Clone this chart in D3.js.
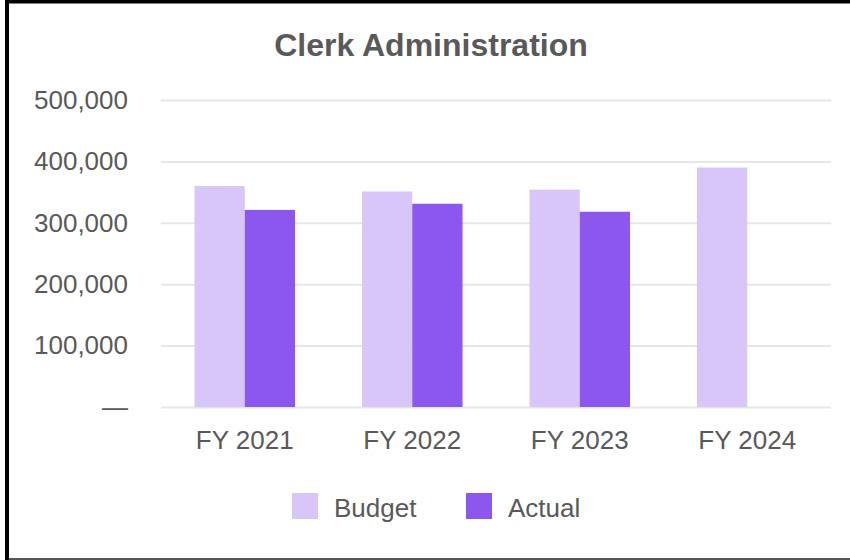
<!DOCTYPE html>
<html>
<head>
<meta charset="utf-8">
<script src="https://cdn.jsdelivr.net/npm/d3@7"></script>
<style>
  html, body { margin: 0; padding: 0; background: #fff; }
  svg { display: block; font-family: "Liberation Sans", Arial, sans-serif; }
</style>
</head>
<body>
<svg id="chart" width="850" height="560"></svg>
<script>
// Fiscal years and budget vs. actual spending for Clerk Administration
const years = ["FY 2021", "FY 2022", "FY 2023", "FY 2024"];
const seriesNames = ["Budget", "Actual"];
const budget = [360000, 351000, 354000, 390000];
const actual = [321000, 331000, 318000, null];
const yTicks = [0, 100000, 200000, 300000, 400000, 500000];
const colors = ["#d8c6f8", "#8c57ef"];

const svg = d3.select("#chart");
const textColor = "#595959";

// Card frame
svg.append("rect").attr("x", 5).attr("y", 0).attr("width", 845).attr("height", 3.5).attr("fill", "#000");
svg.append("rect").attr("x", 5).attr("y", 0).attr("width", 4).attr("height", 560).attr("fill", "#000");
svg.append("rect").attr("x", 9).attr("y", 558).attr("width", 841).attr("height", 2).attr("fill", "#555");

// Title
svg.append("text")
  .attr("x", 431).attr("y", 56)
  .attr("text-anchor", "middle")
  .attr("font-size", 32).attr("font-weight", "bold")
  .attr("fill", textColor)
  .text("Clerk Administration");

const plotLeft = 161, plotRight = 831;
const y = d3.scaleLinear().domain([0, 500000]).range([407, 100]);
const x = d3.scaleBand().domain(years).range([plotLeft, plotRight]).padding(0);
const xs = d3.scaleBand().domain(seriesNames)
  .range([x.bandwidth() * 0.2, x.bandwidth() * 0.8]).padding(0);

// Y axis with gridlines
const yAxis = d3.axisLeft(y)
  .tickValues(yTicks)
  .tickSize(-(plotRight - plotLeft))
  .tickPadding(33)
  .tickFormat(d => d === 0 ? "—" : d3.format(",")(d));

const gy = svg.append("g")
  .attr("transform", `translate(${plotLeft},0)`)
  .call(yAxis);
gy.select(".domain").remove();
gy.selectAll(".tick line").attr("stroke", "#e6e6e6").attr("stroke-width", 2);
gy.selectAll(".tick text")
  .attr("font-size", 26)
  .attr("font-family", "Liberation Sans, Arial, sans-serif")
  .attr("fill", textColor);

// Bars
const rows = years.map((yr, i) => ({ year: yr, values: [budget[i], actual[i]] }));
const groups = svg.append("g").selectAll("g")
  .data(rows).join("g")
  .attr("transform", d => `translate(${x(d.year)},0)`);

groups.selectAll("rect")
  .data(d => d.values.map((v, j) => ({ name: seriesNames[j], value: v, color: colors[j] }))
               .filter(e => e.value !== null))
  .join("rect")
  .attr("x", d => xs(d.name))
  .attr("width", xs.bandwidth())
  .attr("y", d => y(d.value))
  .attr("height", d => y(0) - y(d.value))
  .attr("fill", d => d.color);

// X axis labels
const xAxis = d3.axisBottom(x).tickSize(0).tickPadding(24);
const gx = svg.append("g")
  .attr("transform", `translate(0,${y(0)})`)
  .call(xAxis);
gx.select(".domain").remove();
gx.selectAll(".tick text")
  .attr("font-size", 26)
  .attr("font-family", "Liberation Sans, Arial, sans-serif")
  .attr("fill", textColor);

// Legend
const legendX = [292, 466];
const legend = svg.append("g").selectAll("g")
  .data(seriesNames).join("g")
  .attr("transform", (d, i) => `translate(${legendX[i]},493)`);
legend.append("rect")
  .attr("width", 26).attr("height", 26)
  .attr("fill", (d, i) => colors[i]);
legend.append("text")
  .attr("x", 42).attr("y", 23.5)
  .attr("font-size", 26)
  .attr("fill", textColor)
  .text(d => d);
</script>
</body>
</html>
